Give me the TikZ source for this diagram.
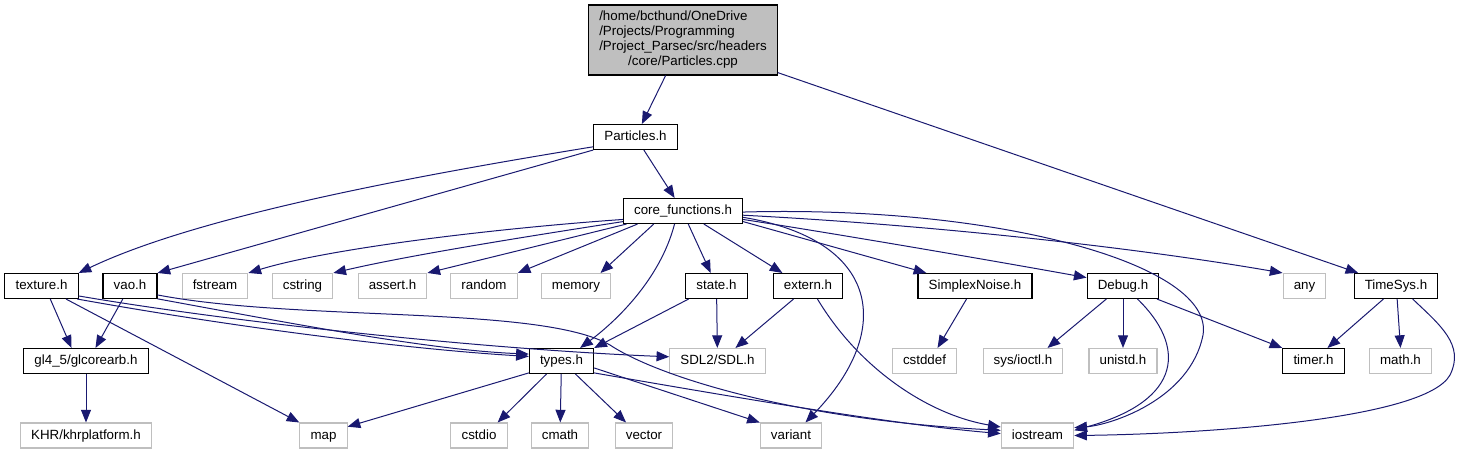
\documentclass[tikz,border=0pt]{standalone}
\usepackage{fontspec}
\setmainfont{Liberation Sans}
\usetikzlibrary{arrows.meta}
\definecolor{dedge}{HTML}{191970}
\definecolor{dgrey}{HTML}{BFBFBF}
\tikzset{
  >={Triangle[length=9.5pt,width=7.5pt]},
  font=\fontsize{10}{11.25}\selectfont,
  hdr/.style={draw=#1, fill=white, line width=0.8pt,
    inner xsep=8pt, inner ysep=2pt, minimum height=18.75pt,
    text height=7.5pt, text depth=2pt},
  hdr/.default=black,
  sys/.style={hdr=dgrey},
  root/.style={draw=black, fill=dgrey, line width=0.8pt,
    inner xsep=8pt, inner ysep=3pt, minimum height=52.5pt},
  inc/.style={->, draw=dedge, line width=0.75pt}
}
\begin{document}
\begin{tikzpicture}[x=0.75pt,y=-0.75pt]
  \useasboundingbox (0,0) rectangle (1457,455);
  % nodes
  \node[root] (top) at (683,40) {\begin{tabular}{@{}l@{}}/home/bcthund/OneDrive\\
    /Projects/Programming\\ /Project\_Parsec/src/headers\\
    \multicolumn{1}{@{}c@{}}{/core/Particles.cpp}\end{tabular}};
  \node[hdr] (particles) at (635.5,137) {Particles.h};
  \node[hdr] (core) at (683,211) {core\_functions.h};
  \node[hdr] (texture) at (41.5,286) {texture.h};
  \node[hdr] (vao) at (130,286) {vao.h};
  \node[sys] (fstream) at (215,286) {fstream};
  \node[sys] (cstring) at (302.5,286) {cstring};
  \node[sys] (assert) at (392.5,286) {assert.h};
  \node[sys] (random) at (484,286) {random};
  \node[sys] (memory) at (576,286) {memory};
  \node[hdr] (state) at (716.5,286) {state.h};
  \node[hdr] (extern) at (808,286) {extern.h};
  \node[hdr] (simplex) at (975,286) {SimplexNoise.h};
  \node[hdr] (debug) at (1123,286) {Debug.h};
  \node[sys] (any) at (1304.5,286) {any};
  \node[hdr] (timesys) at (1396,286) {TimeSys.h};
  \node[hdr] (gl) at (86,361) {gl4\_5/glcorearb.h};
  \node[hdr] (types) at (561.5,361) {types.h};
  \node[sys] (sdl) at (717.5,361) {SDL2/SDL.h};
  \node[sys] (cstddef) at (924.5,361) {cstddef};
  \node[sys] (ioctl) at (1023,361) {sys/ioctl.h};
  \node[sys] (unistd) at (1123,361) {unistd.h};
  \node[hdr] (timer) at (1313.5,361) {timer.h};
  \node[sys] (math) at (1400.5,361) {math.h};
  \node[sys] (khr) at (86,435.5) {KHR/khrplatform.h};
  \node[sys] (map) at (323.5,435.5) {map};
  \node[sys] (cstdio) at (479,435.5) {cstdio};
  \node[sys] (cmath) at (560,435.5) {cmath};
  \node[sys] (vector) at (644,435.5) {vector};
  \node[sys] (variant) at (791,435.5) {variant};
  \node[sys] (iostream) at (1037.5,435.5) {iostream};

  % includes
  \draw[inc] (top) -- (particles);
  \draw[inc] (top) -- (timesys);
  \draw[inc] (particles.-167) .. controls (420,175) and (200,215) .. (texture.north east);
  \draw[inc] (particles.south west) -- (vao.north east);
  \draw[inc] (particles) -- (core);

  \draw[inc] (core.-172) .. controls (500,228) and (330,248) .. (fstream.north east);
  \draw[inc] (core.-170) .. controls (530,236) and (410,255) .. (cstring.north east);
  \draw[inc] (core.-167) -- (assert.north east);
  \draw[inc] (core.-164) -- (random.north east);
  \draw[inc] (core.-156) -- (memory.28);
  \draw[inc] (core.-123) .. controls (660,280) and (615,322) .. (types.35);
  \draw[inc] (core.-68) -- (state.114);
  \draw[inc] (core.-32) -- (extern.153);
  \draw[inc] (core.-10) -- (simplex.165);
  \draw[inc] (core.-8) .. controls (850,236) and (1000,262) .. (debug.167);
  \draw[inc] (core.-4) .. controls (950,226) and (1150,250) .. (any.north west);
  \draw[inc] (core.-6) .. controls (880,240) and (895,330) .. (variant.42);
  \draw[inc] (core.-1) .. controls (1000,205) and (1215,265) .. (1203,335)
    .. controls (1190,400) and (1110,425) .. (iostream.12);

  \draw[inc] (texture.-56) -- (gl.138);
  \draw[inc] (vao.-119) -- (gl.54);
  \draw[inc] (texture.-28) -- (map.north west);
  \draw[inc] (texture.-15) .. controls (250,325) and (500,350) .. (sdl.175);
  \draw[inc] (texture.-20) .. controls (250,330) and (420,350) .. (types.172);
  \draw[inc] (vao.-25) .. controls (300,325) and (430,350) .. (types.168);
  \draw[inc] (vao.-18) .. controls (300,322) and (540,305) .. (610,345)
    .. controls (660,378) and (800,420) .. (iostream.172);
  \draw[inc] (gl) -- (khr);

  \draw[inc] (state.-155) -- (types.north east);
  \draw[inc] (state) -- (sdl);
  \draw[inc] (extern.-138) -- (sdl.36);
  \draw[inc] (extern.-54) .. controls (860,370) and (930,415) .. (iostream.167);
  \draw[inc] (simplex.-123) -- (cstddef.45);
  \draw[inc] (debug.-142) -- (ioctl.28);
  \draw[inc] (debug) -- (unistd);
  \draw[inc] (debug.-21) -- (timer.north west);
  \draw[inc] (debug.-42) .. controls (1185,345) and (1185,400) .. (iostream.8);
  \draw[inc] (timesys.-134) -- (timer.43);
  \draw[inc] (timesys.-85) -- (math.north);
  \draw[inc] (timesys.-38) .. controls (1440,325) and (1465,345) .. (1450,375)
    .. controls (1425,420) and (1200,434) .. (iostream.east);

  \draw[inc] (types.-160) -- (map.20);
  \draw[inc] (types.-139) -- (cstdio.35);
  \draw[inc] (types) -- (cmath);
  \draw[inc] (types.-43) -- (vector.144);
  \draw[inc] (types.-12) -- (variant.north west);
  \draw[inc] (types.-20) .. controls (750,400) and (900,425) .. (iostream.177);
\end{tikzpicture}
\end{document}
